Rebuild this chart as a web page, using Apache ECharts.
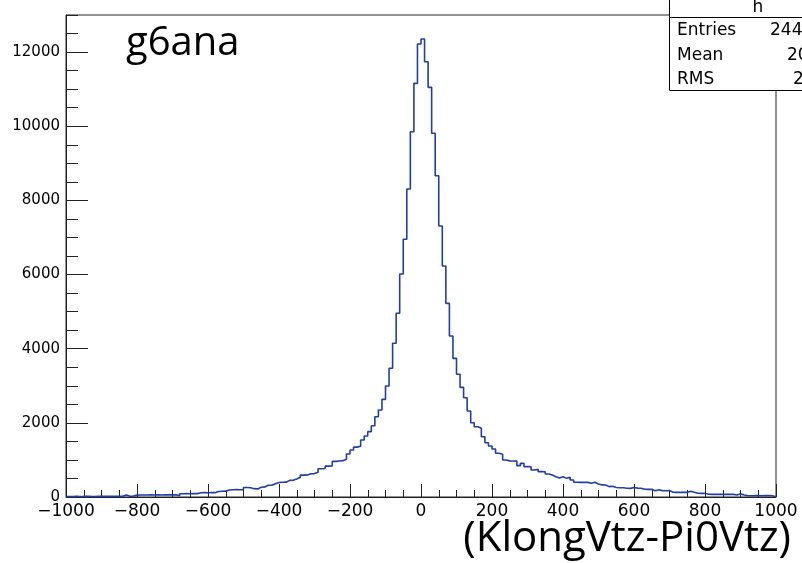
<!DOCTYPE html>
<html>
<head>
<meta charset="utf-8">
<script src="https://cdn.jsdelivr.net/npm/echarts@6/dist/echarts.min.js"></script>
<style>
html,body{margin:0;padding:0;background:#fff;}
#chart{width:802px;height:563px;}
</style>
</head>
<body>
<div id="chart"></div>
<script>
// ---- data (histogram "h", 200 bins of width 10 from -1000 to 1000) ----
const xMin = -1000;
const xMax = 1000;
const binWidth = 10;

// bins -1000 .. -500
const countsA = [12,15,18,14,16,20,17,15,19,16,18,21,17,19,22,20,
  54,22,24,
  50,52,55,53,56,54,57,55,58,56,60,58,
  32,88,92,89,93,91,
  115,118,116,119,117,
  150,156,158,
  190,194,198,196,200];
// bins -500 .. 0
const countsB = [255,250,225,218,265,272,315,318,359,392,
  396,400,448,452,485,531,590,596,627,631,
  666,760,768,832,840,960,972,980,1016,1160,
  1268,1345,1368,1537,1645,1762,1923,2166,2346,2634,
  2994,3471,4145,4954,6014,6950,8306,9852,11157,12217];
// bins 0 .. 500
const countsC = [12352,11740,11049,9809,8665,7308,6230,5223,4342,3740,
  3309,2958,2678,2319,2004,1896,1853,1626,1464,1375,
  1294,1178,1151,998,975,970,968,845,908,820,
  816,728,746,685,681,620,593,548,512,548,
  503,530,458,398,394,397,395,369,396,351];
// bins 500 .. 1000
const countsD = [326,322,280,292,258,250,248,236,233,255,
  240,236,208,205,209,171,196,172,170,173,
  128,125,127,124,126,153,126,100,98,99,
  73,71,72,74,70,72,73,71,54,90,
  54,37,35,36,38,35,36,37,35,5];

const histTitle = 'h';
const statNames = ['Entries', 'Mean', 'RMS'];
const statValues = ['244357', '20.47', '216.9'];
const plotLabel = 'g6ana';
const xTitle = '(KlongVtz-Pi0Vtz)';

// ---- build ----
const counts = countsA.concat(countsB, countsC, countsD);
const histData = counts.map((c, i) => [xMin + i * binWidth, c]);
histData.push([xMin + counts.length * binWidth, counts[counts.length - 1]]);

const rootFont = '"DejaVu Sans", "Liberation Sans", sans-serif';
const officeFont = '"Open Sans", Lato, sans-serif';

const chart = echarts.init(document.getElementById('chart'), null, {renderer: 'canvas'});

const statRowsY = [31, 56, 80];
const statValX = [770, 787, 793];
const graphics = [
  {type: 'rect', z: 100, shape: {x: 669.5, y: -1, width: 200, height: 91.5},
   style: {fill: '#fff', stroke: '#000', lineWidth: 1}},
  {type: 'line', z: 101, shape: {x1: 669.5, y1: 17.5, x2: 802, y2: 17.5},
   style: {stroke: '#000', lineWidth: 1}},
  {type: 'text', z: 102, x: 758, y: 8,
   style: {text: histTitle, font: '17px ' + rootFont, fill: '#000', align: 'center', verticalAlign: 'middle'}},
  {type: 'text', z: 102, x: 126, y: 44,
   style: {text: plotLabel, font: '40px ' + officeFont, fill: '#000', align: 'left', verticalAlign: 'middle'}},
  {type: 'text', z: 102, x: 791, y: 539,
   style: {text: xTitle, font: '42px ' + officeFont, fill: '#000', align: 'right', verticalAlign: 'middle'}}
];
statNames.forEach((n, i) => {
  graphics.push({type: 'text', z: 102, x: 677, y: statRowsY[i],
    style: {text: n, font: '17px ' + rootFont, fill: '#000', align: 'left', verticalAlign: 'middle'}});
  graphics.push({type: 'text', z: 102, x: statValX[i], y: statRowsY[i],
    style: {text: statValues[i], font: '17px ' + rootFont, fill: '#000', align: 'left', verticalAlign: 'middle'}});
});

const option = {
  animation: false,
  backgroundColor: '#fff',
  grid: {left: 66, right: 26, top: 15, bottom: 66, show: true, borderColor: '#222', borderWidth: 1, backgroundColor: 'transparent'},
  xAxis: {
    type: 'value', min: xMin, max: xMax, interval: 200,
    axisLine: {onZero: false, lineStyle: {color: '#222', width: 1}},
    axisTick: {inside: true, length: 13, lineStyle: {color: '#222'}},
    minorTick: {show: true, splitNumber: 4, length: 7, lineStyle: {color: '#222'}},
    splitLine: {show: false},
    axisLabel: {color: '#000', fontFamily: rootFont, fontSize: 17, margin: 6,
      formatter: v => String(v).replace('-', '\u2212')}
  },
  yAxis: [
    {
      type: 'value', min: 0, max: 13000, interval: 2000, position: 'left',
      axisLine: {show: true, onZero: false, lineStyle: {color: '#222', width: 1}},
      axisTick: {show: true, inside: true, length: 22, lineStyle: {color: '#222'}},
      splitLine: {show: false},
      axisLabel: {color: '#000', fontFamily: rootFont, fontSize: 15, margin: 6, showMaxLabel: false,
        formatter: v => String(v)}
    },
    {
      type: 'value', min: 0, max: 13000, interval: 500, position: 'left', offset: 0,
      axisLine: {show: false, onZero: false},
      axisTick: {show: true, inside: true, length: 12, lineStyle: {color: '#222'}},
      splitLine: {show: false},
      axisLabel: {show: false}
    }
  ],
  series: [{
    type: 'line', step: 'end', data: histData, yAxisIndex: 0,
    showSymbol: false, symbol: 'none', clip: true,
    lineStyle: {color: '#1f3fa6', width: 1.6}
  }],
  graphic: graphics
};
chart.setOption(option);
</script>
</body>
</html>
